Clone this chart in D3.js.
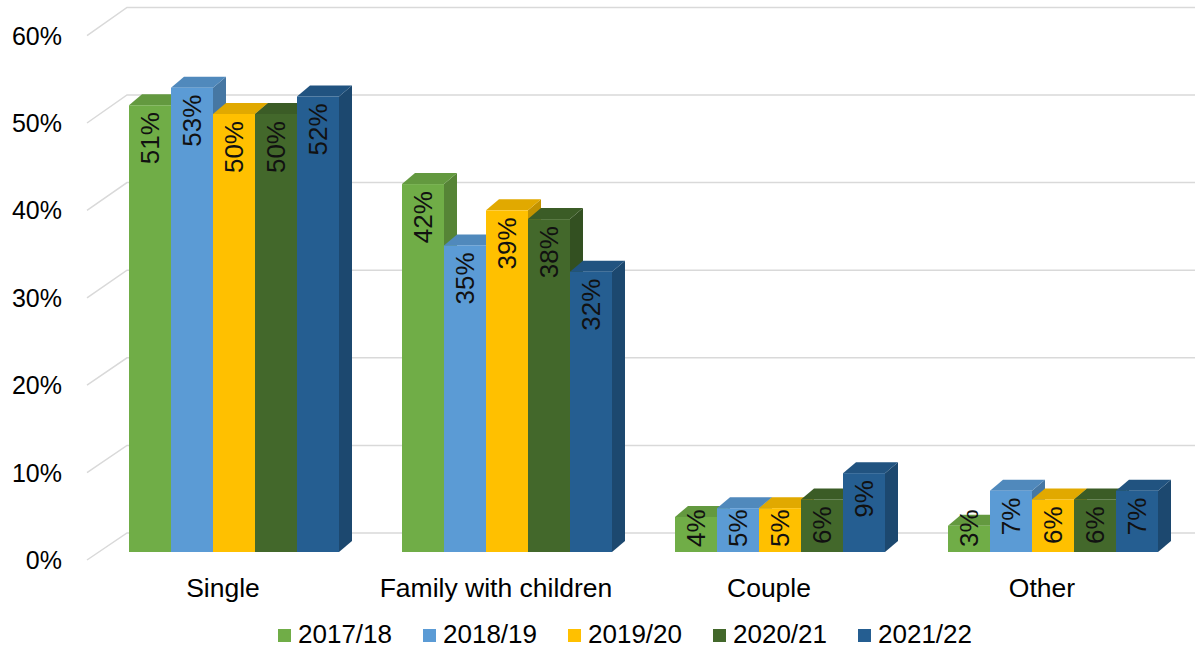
<!DOCTYPE html>
<html>
<head>
<meta charset="utf-8">
<script src="https://cdn.jsdelivr.net/npm/d3@7"></script>
<style>
  html, body { margin: 0; padding: 0; background: #ffffff; }
  svg { display: block; font-family: "Liberation Sans", Arial, sans-serif; }
</style>
</head>
<body>
<svg id="chart" width="1195" height="650"></svg>
<script>
// Household type shares by year
const categories = ["Single", "Family with children", "Couple", "Other"];
const seriesNames = ["2017/18", "2018/19", "2019/20", "2020/21", "2021/22"];
const values2017 = [51, 42, 4, 3];
const values2018 = [53, 35, 5, 7];
const values2019 = [50, 39, 5, 6];
const values2020 = [50, 38, 6, 6];
const values2021 = [52, 32, 9, 7];
const seriesColors = ["#70ad47", "#5b9bd5", "#ffc000", "#43682b", "#255e91"];
const yTicks = [0, 10, 20, 30, 40, 50, 60];

const seriesValues = [values2017, values2018, values2019, values2020, values2021];

const svg = d3.select("#chart");
const W = 1195;

// Scales: front face of bars, front edge of the side wall, and back wall
const x = d3.scaleBand().domain(categories).range([129, 1158]).paddingInner(63 / 273);
const xs = d3.scaleBand().domain(seriesNames).range([0, x.bandwidth()]);
const yBar = d3.scaleLinear().domain([0, 60]).range([552, 552 - 60 * 8.76]);
const yFront = d3.scaleLinear().domain([0, 60]).range([560, 560 - 60 * 8.74]);
const yBack = d3.scaleLinear().domain([0, 60]).range([533, 533 - 60 * 8.76]);
const wallX0 = 87, wallX1 = 127;
const depth = { dx: 13, dy: -11 };

// Gridlines: slanted on the side wall, horizontal across the back wall
const grid = svg.append("g").attr("stroke", "#d9d9d9").attr("stroke-width", 1.5).attr("fill", "none");
yTicks.forEach(t => {
  grid.append("path")
    .attr("d", `M${wallX0},${yFront(t)}L${wallX1},${yBack(t)}L${W},${yBack(t)}`);
});

// Y axis labels
svg.append("g")
  .selectAll("text")
  .data(yTicks)
  .join("text")
  .attr("x", 62)
  .attr("y", d => yFront(d))
  .attr("dy", "0.36em")
  .attr("text-anchor", "end")
  .attr("font-size", 25)
  .attr("fill", "#000")
  .text(d => d + "%");

// 3D bars
const bars = svg.append("g");
categories.forEach((cat, ci) => {
  seriesNames.forEach((s, si) => {
    const v = seriesValues[si][ci];
    const x0 = x(cat) + xs(s);
    const x1 = x0 + xs.bandwidth();
    const yt = yBar(v);
    const yb = yBar(0);
    const base = d3.color(seriesColors[si]);
    const g = bars.append("g");
    // side face
    g.append("path")
      .attr("d", `M${x1},${yt}L${x1 + depth.dx},${yt + depth.dy}L${x1 + depth.dx},${yb + depth.dy}L${x1},${yb}Z`)
      .attr("fill", base.darker(0.75).formatHex());
    // top face
    g.append("path")
      .attr("d", `M${x0},${yt}L${x1},${yt}L${x1 + depth.dx},${yt + depth.dy}L${x0 + depth.dx},${yt + depth.dy}Z`)
      .attr("fill", base.darker(0.35).formatHex());
    // front face
    g.append("rect")
      .attr("x", x0)
      .attr("y", yt)
      .attr("width", xs.bandwidth())
      .attr("height", yb - yt)
      .attr("fill", base.formatHex());
  });
});

// Value labels, rotated, near the top of each bar
const labels = svg.append("g");
categories.forEach((cat, ci) => {
  seriesNames.forEach((s, si) => {
    const v = seriesValues[si][ci];
    const cx = x(cat) + xs(s) + xs.bandwidth() / 2;
    const t = labels.append("text")
      .attr("font-size", 26)
      .attr("fill", "#111")
      .attr("text-anchor", "end")
      .text(v + "%");
    const len = t.node().getComputedTextLength();
    let top = yBar(v) + 7;
    const maxTop = yBar(0) - 5 - len;
    if (top > maxTop) top = maxTop;
    t.attr("transform", `translate(${cx},${top}) rotate(-90)`)
      .attr("dy", "0.36em");
  });
});

// Category labels
svg.append("g")
  .selectAll("text")
  .data(categories)
  .join("text")
  .attr("x", d => x(d) + x.bandwidth() / 2 - 11)
  .attr("y", 597)
  .attr("text-anchor", "middle")
  .attr("font-size", 26.5)
  .attr("fill", "#000")
  .text(d => d);

// Legend
const legend = svg.append("g");
seriesNames.forEach((s, i) => {
  const lx = 278 + i * 145;
  legend.append("rect")
    .attr("x", lx).attr("y", 629).attr("width", 13).attr("height", 13)
    .attr("fill", seriesColors[i]);
  legend.append("text")
    .attr("x", lx + 20).attr("y", 643)
    .attr("font-size", 26)
    .attr("fill", "#000")
    .text(s);
});
</script>
</body>
</html>
